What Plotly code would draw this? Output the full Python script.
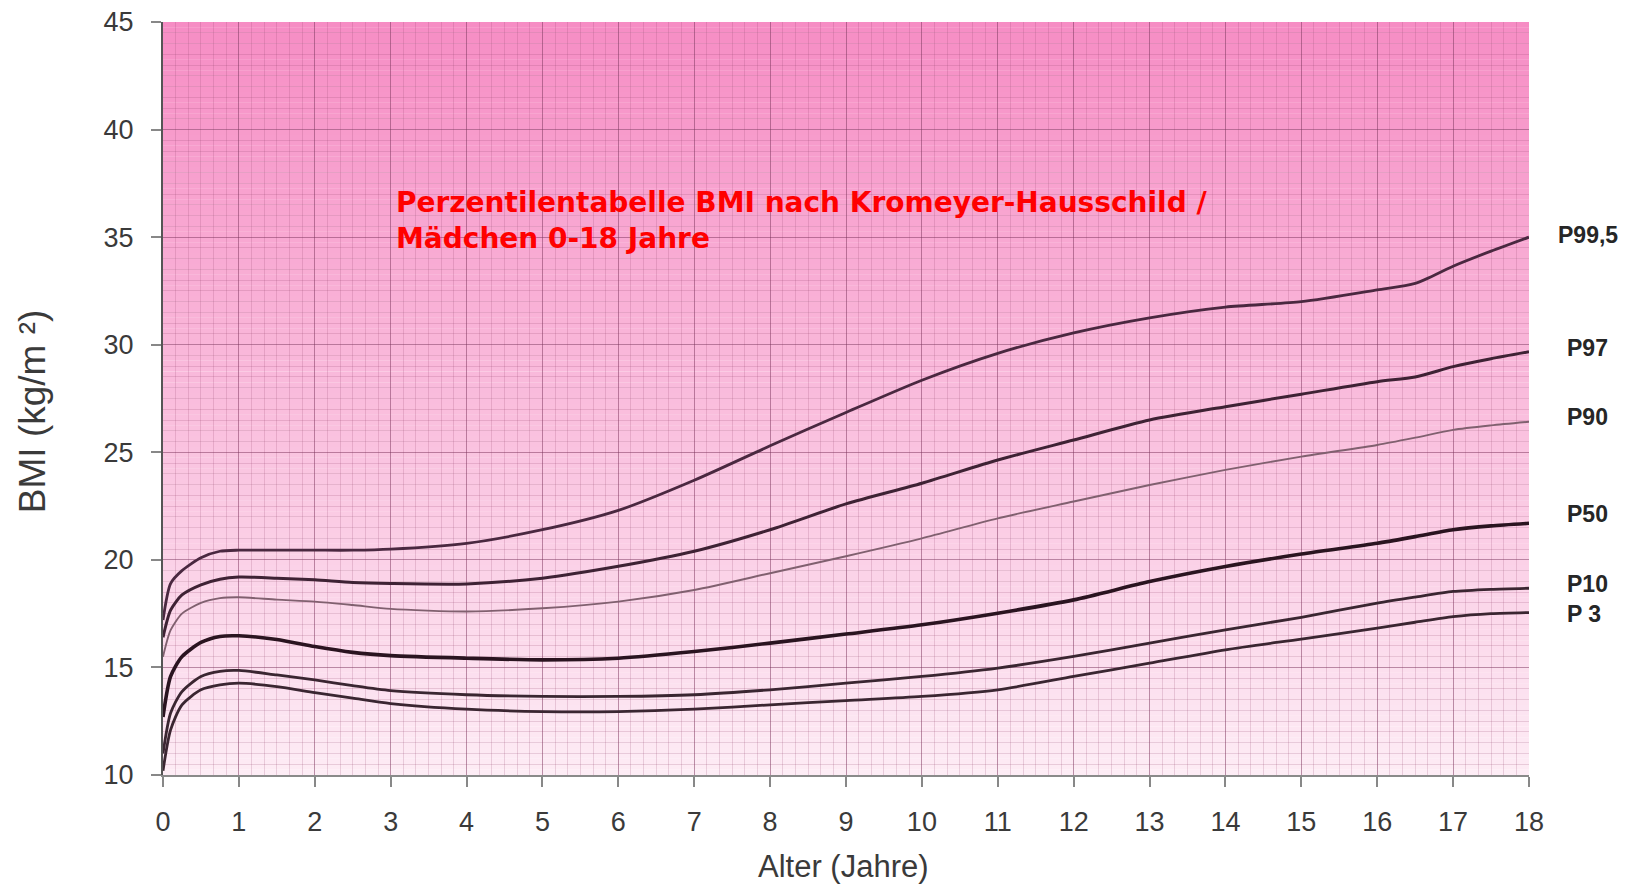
import plotly.graph_objects as go

# ---------------- data ----------------
ages = [0, 0.1, 0.25, 0.5, 0.75, 1, 1.5, 2, 2.5, 3, 4, 5, 6, 7, 8, 9, 10, 11,
        12, 13, 14, 15, 16, 16.5, 17, 17.5, 18]

p99_5 = [17.2, 18.9, 19.5, 20.1, 20.4, 20.45, 20.45, 20.45, 20.45, 20.5, 20.77, 21.4, 22.3,
         23.7, 25.3, 26.85, 28.35, 29.6, 30.55, 31.25, 31.75, 32.0, 32.55, 32.85, 33.65, 34.35, 35.0]
p97 = [16.4, 17.66, 18.37, 18.84, 19.1, 19.2, 19.15, 19.07, 18.95, 18.9, 18.88, 19.15, 19.7,
       20.4, 21.4, 22.6, 23.56, 24.64, 25.57, 26.5, 27.12, 27.7, 28.28, 28.5, 28.98, 29.35, 29.67]
p90 = [15.5, 16.73, 17.5, 18.0, 18.22, 18.26, 18.15, 18.06, 17.9, 17.72, 17.6, 17.75, 18.06,
       18.6, 19.38, 20.17, 21.0, 21.93, 22.71, 23.48, 24.18, 24.8, 25.34, 25.68, 26.04, 26.25, 26.42]
p50 = [12.7, 14.58, 15.5, 16.16, 16.44, 16.47, 16.3, 15.97, 15.7, 15.55, 15.43, 15.35, 15.43,
       15.74, 16.13, 16.55, 16.98, 17.52, 18.14, 18.99, 19.69, 20.27, 20.77, 21.08, 21.4, 21.58, 21.7]
p10 = [11.0, 12.88, 13.88, 14.58, 14.82, 14.86, 14.65, 14.42, 14.15, 13.92, 13.73, 13.65, 13.65,
       13.73, 13.96, 14.27, 14.58, 14.97, 15.51, 16.13, 16.75, 17.33, 17.99, 18.27, 18.53, 18.63, 18.68]
p3 = [10.2, 12.1, 13.26, 13.96, 14.19, 14.27, 14.11, 13.83, 13.57, 13.32, 13.06, 12.95, 12.95,
      13.06, 13.26, 13.46, 13.65, 13.96, 14.58, 15.2, 15.82, 16.32, 16.83, 17.1, 17.36, 17.5, 17.55]

series_names = ["P99,5", "P97", "P90", "P50", "P10", "P 3"]
series_values = [p99_5, p97, p90, p50, p10, p3]
label_y = [35.1, 29.85, 26.65, 22.15, 18.9, 17.5]

x_ticks = list(range(0, 19))
y_ticks = [10, 15, 20, 25, 30, 35, 40, 45]

title_lines = ["Perzentilentabelle BMI nach Kromeyer-Hausschild /", "Mädchen 0-18 Jahre"]
title_line_y = [36.6, 34.95]
x_title = "Alter (Jahre)"
y_title = "BMI (kg/m ²)"

# ---------------- styles ----------------
line_styles = {
    "P99,5": dict(color="#4a2840", width=2.8),
    "P97": dict(color="#3e2234", width=3.0),
    "P90": dict(color="#80606f", width=1.9),
    "P50": dict(color="#2a1420", width=3.6),
    "P10": dict(color="#3a2631", width=2.8),
    "P 3": dict(color="#3a2631", width=2.8),
}
label_xshift = {"P99,5": 27}

# the page body has an 8px margin: shrink the figure so the plot lands where the reference has it
BODY = 8
fig_w, fig_h = 1631 - BODY, 890 - BODY
m_l, m_t = 163 - BODY, 22 - BODY
m_r = fig_w + BODY - 1529
m_b = fig_h + BODY - 775

fig = go.Figure()

for name, vals in zip(series_names, series_values):
    fig.add_trace(go.Scatter(
        x=ages, y=vals, mode="lines", name=name,
        line=dict(shape="spline", smoothing=0.7, **line_styles[name]),
        hoverinfo="skip", showlegend=False,
    ))

# background vertical gradient (pink at top -> pale pink at bottom)
top_rgb = (246, 141, 196)
bot_rgb = (253, 236, 245)
y_lo, y_hi = 10.0, 45.0
n_bands = 140
shapes = []
for i in range(n_bands):
    f = (i + 0.5) / n_bands
    c = tuple(round(bot_rgb[k] + (top_rgb[k] - bot_rgb[k]) * f) for k in range(3))
    y0 = y_lo + (y_hi - y_lo) * i / n_bands
    y1 = y_lo + (y_hi - y_lo) * (i + 1) / n_bands
    shapes.append(dict(type="rect", xref="paper", yref="y", x0=0, x1=1, y0=y0, y1=y1 + 0.01,
                       fillcolor="rgb(%d,%d,%d)" % c, line=dict(width=0), layer="below"))

annotations = []
for name, ly in zip(series_names, label_y):
    annotations.append(dict(
        x=18, y=ly, xref="x", yref="y", text=name, showarrow=False,
        xanchor="left", yanchor="middle", xshift=label_xshift.get(name, 36),
        font=dict(family="Liberation Sans", size=23, color="#262626", weight="bold"),
    ))

for line, ty in zip(title_lines, title_line_y):
    annotations.append(dict(
        x=0.169, y=ty, xref="paper", yref="y", text=line, showarrow=False,
        xanchor="left", yanchor="middle", align="left",
        font=dict(family="DejaVu Sans", size=28, color="#ff0000", weight="bold"),
    ))

annotations.append(dict(
    x=0.4985, y=-0.122, xref="paper", yref="paper", text=x_title, showarrow=False,
    xanchor="center", yanchor="middle",
    font=dict(family="Liberation Sans", size=31, color="#3a3a3a"),
))
annotations.append(dict(
    x=-0.096, y=0.483, xref="paper", yref="paper", text=y_title, showarrow=False,
    xanchor="center", yanchor="middle", textangle=-90,
    font=dict(family="Liberation Sans", size=37, color="#3a3a3a"),
))

fig.update_layout(
    width=fig_w, height=fig_h,
    margin=dict(l=m_l, r=m_r, t=m_t, b=m_b, autoexpand=False),
    paper_bgcolor="white",
    plot_bgcolor="rgba(0,0,0,0)",
    shapes=shapes,
    annotations=annotations,
    font=dict(family="Liberation Sans", color="#3a3a3a"),
)

fig.update_xaxes(
    range=[0, 18], tickvals=x_ticks, ticktext=[str(v) for v in x_ticks],
    showgrid=True, gridcolor="rgba(120,50,90,0.4)", gridwidth=1.4,
    minor=dict(dtick=1/6, tick0=0, showgrid=True, gridcolor="rgba(150,70,110,0.2)", gridwidth=1),
    ticks="outside", ticklen=10, tickwidth=1.5, tickcolor="#888888",
    ticklabelstandoff=12, ticklabeloverflow="allow", automargin=False,
    tickfont=dict(family="Liberation Sans", size=27, color="#3a3a3a"),
    showline=True, linecolor="#8a8a8a", linewidth=2,
    zeroline=False, fixedrange=True,
)
fig.update_yaxes(
    range=[10, 45], tickvals=y_ticks, ticktext=[str(v) for v in y_ticks],
    showgrid=True, gridcolor="rgba(120,50,90,0.4)", gridwidth=1.4,
    minor=dict(dtick=0.5, tick0=10, showgrid=True, gridcolor="rgba(150,70,110,0.2)", gridwidth=1),
    ticks="outside", ticklen=10, tickwidth=1.5, tickcolor="#888888",
    ticklabelstandoff=12, ticklabeloverflow="allow", automargin=False,
    tickfont=dict(family="Liberation Sans", size=27, color="#3a3a3a"),
    showline=True, linecolor="#555555", linewidth=2,
    zeroline=False, fixedrange=True,
)

fig.write_html("out.html")
